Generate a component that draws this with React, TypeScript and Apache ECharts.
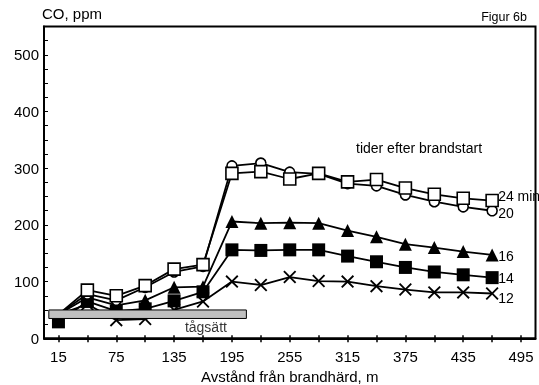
import React, { useEffect, useRef } from "react";
import * as echarts from "echarts";

const distances = [15, 45, 75, 105, 135, 165, 195, 225, 255, 285, 315, 345, 375, 405, 435, 465];
const co24 = [42, 85, 75, 93, 122, 130, 291, 294, 281, 291, 276, 280, 265, 254, 247, 243];
const co20 = [42, 78, 67, 90, 117, 127, 304, 309, 293, 290, 273, 269, 253, 241, 232, 225];
const co16 = [42, 72, 58, 67, 90, 91, 206, 203, 204, 203, 190, 179, 166, 160, 153, 147];
const co14 = [29, 65, 48, 52, 66, 82, 156, 155, 156, 156, 145, 135, 125, 117, 112, 107];
const co12 = [42, 60, 32, 34, 50, 65, 100, 94, 108, 101, 100, 92, 86, 81, 81, 79];

const xTickValues = [15, 45, 75, 105, 135, 165, 195, 225, 255, 285, 315, 345, 375, 405, 435, 465, 495];
const xLabelValues = [15, 75, 135, 195, 255, 315, 375, 435, 495];
const yTickValues = [0, 25, 50, 75, 100, 125, 150, 175, 200, 225, 250, 275, 300, 325, 350, 375, 400, 425, 450, 475, 500, 525];
const yLabelValues = [0, 100, 200, 300, 400, 500];

// train set (tågsätt) extent: [x0, y0, x1, y1]
const trainBox = [[5, 35, 210, 50]];
const trainLabelPos = [[168, 20]];

const FONT = "'Liberation Sans', Arial, sans-serif";
const CROSS = "path://M0,1L1,0L5,4L9,0L10,1L6,5L10,9L9,10L5,6L1,10L0,9L4,5Z";

function lineSeries(name: string, values: number[], symbol: string, size: number, open: boolean, label: string, offset: number[], hideFirst: boolean) {
  return {
    type: "line",
    name,
    data: distances.map((d, i) => [d, values[i]]),
    symbol,
    symbolSize: (_v: any, p: any) => (hideFirst && p.dataIndex === 0 ? 7 : size),
    showAllSymbol: true,
    lineStyle: { color: "#000", width: 1.8 },
    itemStyle: open
      ? { color: "#fff", borderColor: "#000", borderWidth: 1.6 }
      : { color: "#000", borderColor: "#000", borderWidth: 0 },
    endLabel: {
      show: true,
      formatter: label,
      color: "#000",
      fontSize: 14,
      fontFamily: FONT,
      distance: 6,
      offset,
    },
    z: 3,
  };
}

export default function App() {
  const ref = useRef<HTMLDivElement>(null);
  useEffect(() => {
    if (!ref.current) return;
    const chart = echarts.init(ref.current, null, { renderer: "svg" });
    chart.setOption({
      animation: false,
      grid: {
        left: 44,
        right: 3.5,
        top: 26.5,
        bottom: 46.7,
        outerBoundsMode: "none",
        containLabel: false,
        show: true,
        borderColor: "#000",
        borderWidth: 2,
        backgroundColor: "transparent",
      },
      xAxis: [
        {
          type: "value",
          min: 0,
          max: 510,
          name: "Avstånd från brandhärd, m",
          nameLocation: "middle",
          nameGap: 29,
          nameTextStyle: { color: "#000", fontSize: 15, fontFamily: FONT },
          splitLine: { show: false },
          axisLine: { show: true, lineStyle: { color: "#000", width: 2 } },
          axisTick: { show: true, inside: true, length: 3, customValues: xTickValues, lineStyle: { color: "#000", width: 1.5 } },
          axisLabel: { customValues: xLabelValues, color: "#000", fontSize: 15, fontFamily: FONT, margin: 11 },
        },
        {
          type: "value",
          min: 0,
          max: 510,
          position: "bottom",
          splitLine: { show: false },
          axisLine: { show: false },
          axisTick: { show: true, inside: false, length: 4, customValues: xTickValues, lineStyle: { color: "#000", width: 1.5 } },
          axisLabel: { show: false },
        },
      ],
      yAxis: {
        type: "value",
        min: 0,
        max: 550,
        splitLine: { show: false },
        axisLine: { show: true, lineStyle: { color: "#000", width: 2 } },
        axisTick: { show: true, inside: true, length: 4, customValues: yTickValues, lineStyle: { color: "#000", width: 1 } },
        axisLabel: { customValues: yLabelValues, color: "#000", fontSize: 15, fontFamily: FONT, margin: 5 },
      },
      graphic: [
        { type: "text", left: 42, top: 6, style: { text: "CO, ppm", fill: "#000", font: `15px ${FONT}` } },
        { type: "text", right: 12, top: 10, style: { text: "Figur 6b", fill: "#000", font: `12.5px ${FONT}` } },
        { type: "text", left: 356, top: 141, style: { text: "tider efter brandstart", fill: "#000", font: `14px ${FONT}` } },
      ],
      series: [
        lineSeries("12", co12, CROSS, 13, false, "12", [0, 4], true),
        lineSeries("14", co14, "rect", 13, false, "14", [0, 0], false),
        lineSeries("16", co16, "triangle", 13, false, "16", [0, 1], true),
        lineSeries("20", co20, "circle", 10, true, "20", [0, 2], true),
        lineSeries("24", co24, "rect", 12, true, "24 min", [0, -5], true),
        {
          type: "custom",
          z: 10,
          data: trainBox,
          renderItem: (params: any, api: any) => {
            const p0 = api.coord([api.value(0), api.value(1)]);
            const p1 = api.coord([api.value(2), api.value(3)]);
            return {
              type: "rect",
              shape: { x: p0[0], y: p1[1], width: p1[0] - p0[0], height: p0[1] - p1[1] },
              style: { fill: "#c0c0c0", stroke: "#000", lineWidth: 1 },
            };
          },
          encode: { x: [0, 2], y: [1, 3] },
        },
        {
          type: "scatter",
          data: trainLabelPos,
          symbolSize: 0,
          z: 11,
          label: {
            show: true,
            position: "inside",
            formatter: "tågsätt",
            color: "#000",
            fontSize: 14,
            fontFamily: FONT,
          },
        },
      ],
    });
    return () => chart.dispose();
  }, []);
  return <div ref={ref} style={{ position: "fixed", left: 0, top: 0, width: 539, height: 385 }} />;
}
